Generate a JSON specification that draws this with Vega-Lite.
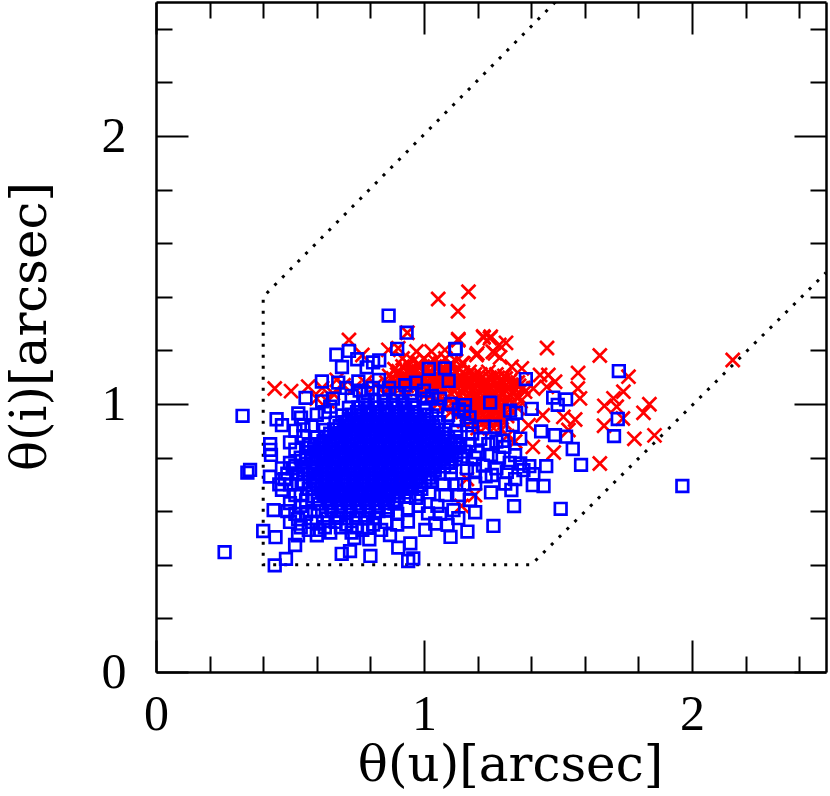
{"$schema":"https://vega.github.io/schema/vega-lite/v6.json","width":670,"height":670,"autosize":"none","padding":{"left":156,"top":2,"right":4,"bottom":124},"background":"white","config":{"view":{"stroke":null}},
"datasets":{"path":[{"seg":"a","u":1.49,"i":2.5,"o":1},{"seg":"a","u":0.4,"i":1.4,"o":2},{"seg":"a","u":0.4,"i":0.4,"o":3},{"seg":"a","u":1.4,"i":0.4,"o":4},{"seg":"a","u":2.5,"i":1.49,"o":5}],
"red":[{"x":1.459,"y":1.209},{"x":1.656,"y":1.181},{"x":2.152,"y":1.164},{"x":1.575,"y":1.116},{"x":1.763,"y":1.102},{"x":1.222,"y":1.248},{"x":1.249,"y":1.251},{"x":1.306,"y":1.228},{"x":1.128,"y":1.238},{"x":1.281,"y":1.22},{"x":1.257,"y":1.195},{"x":1.199,"y":1.189},{"x":1.284,"y":1.174},{"x":1.147,"y":1.151},{"x":1.433,"y":1.108},{"x":1.464,"y":1.108},{"x":1.489,"y":1.083},{"x":1.408,"y":1.058},{"x":1.458,"y":1.064},{"x":1.574,"y":1.058},{"x":1.582,"y":1.021},{"x":1.744,"y":1.046},{"x":1.707,"y":1.021},{"x":1.673,"y":0.993},{"x":1.719,"y":0.99},{"x":1.841,"y":0.999},{"x":1.819,"y":0.967},{"x":1.52,"y":0.952},{"x":1.564,"y":0.942},{"x":1.672,"y":0.919},{"x":1.742,"y":0.946},{"x":1.539,"y":0.903},{"x":1.39,"y":0.921},{"x":1.443,"y":0.958},{"x":1.785,"y":0.87},{"x":1.86,"y":0.883},{"x":1.406,"y":0.84},{"x":1.484,"y":0.819},{"x":1.656,"y":0.778},{"x":1.377,"y":1.046},{"x":1.327,"y":1.139},{"x":1.365,"y":1.133},{"x":1.34,"y":1.077},{"x":1.053,"y":1.392},{"x":1.166,"y":1.419},{"x":1.127,"y":1.346},{"x":0.72,"y":1.239},{"x":0.77,"y":1.183},{"x":0.443,"y":1.058},{"x":0.504,"y":1.048},{"x":0.568,"y":1.065},{"x":0.938,"y":1.266},{"x":1.128,"y":1.242},{"x":1.221,"y":1.252},{"x":1.246,"y":1.245},{"x":1.196,"y":1.183},{"x":1.265,"y":1.189},{"x":0.867,"y":1.202},{"x":0.904,"y":1.208},{"x":0.972,"y":1.196},{"x":1.028,"y":1.196},{"x":1.078,"y":1.202},{"x":1.143,"y":1.152},{"x":0.674,"y":1.09},{"x":0.62,"y":1.06},{"x":0.66,"y":1.04},{"x":0.7,"y":1.07},{"x":0.74,"y":1.06},{"x":0.78,"y":1.08},{"x":0.82,"y":1.07},{"x":0.6,"y":1.02},{"x":0.64,"y":1.01},
{"x":0.92,"y":1.17},{"x":0.96,"y":1.16},{"x":1.0,"y":1.17},{"x":1.04,"y":1.16},{"x":1.08,"y":1.17},{"x":1.12,"y":1.16},{"x":0.94,"y":1.15},{"x":0.98,"y":1.15},{"x":1.02,"y":1.15},{"x":1.06,"y":1.15},{"x":1.1,"y":1.15},
{"x":0.89,"y":1.13},{"x":0.92,"y":1.14},{"x":0.95,"y":1.13},{"x":0.98,"y":1.14},{"x":1.01,"y":1.13},{"x":1.04,"y":1.14},{"x":1.07,"y":1.13},{"x":1.1,"y":1.14},{"x":1.13,"y":1.13},{"x":1.17,"y":1.12},{"x":1.21,"y":1.11},{"x":1.24,"y":1.12},{"x":1.27,"y":1.11},{"x":1.16,"y":1.105},{"x":1.19,"y":1.11},{"x":1.3,"y":1.105},
{"x":0.905,"y":1.122},{"x":0.935,"y":1.122},{"x":0.965,"y":1.122},{"x":0.995,"y":1.122},{"x":1.025,"y":1.122},{"x":1.055,"y":1.122},{"x":1.085,"y":1.122},{"x":1.115,"y":1.122},{"x":1.145,"y":1.118},
{"x":0.885,"y":1.095},{"x":0.915,"y":1.095},{"x":0.945,"y":1.095},{"x":0.975,"y":1.095},{"x":1.005,"y":1.095},{"x":1.035,"y":1.095},{"x":1.065,"y":1.095},{"x":1.095,"y":1.095},{"x":1.125,"y":1.092},{"x":1.155,"y":1.085},
{"x":0.875,"y":1.068},{"x":0.905,"y":1.07},{"x":0.935,"y":1.068},{"x":0.965,"y":1.07},{"x":0.995,"y":1.068},{"x":1.025,"y":1.07},{"x":1.055,"y":1.068},{"x":1.085,"y":1.07},{"x":1.115,"y":1.068},{"x":1.145,"y":1.06},
{"x":0.87,"y":1.105},{"x":0.9,"y":1.11},{"x":0.93,"y":1.105},{"x":0.96,"y":1.11},{"x":0.99,"y":1.105},{"x":1.02,"y":1.11},{"x":1.05,"y":1.105},{"x":1.08,"y":1.11},{"x":1.11,"y":1.105},{"x":1.14,"y":1.1},{"x":1.17,"y":1.09},{"x":1.2,"y":1.085},{"x":1.23,"y":1.09},{"x":1.26,"y":1.085},{"x":1.29,"y":1.09},{"x":1.32,"y":1.085},{"x":1.35,"y":1.08},{"x":1.185,"y":1.098},{"x":1.215,"y":1.098},{"x":1.245,"y":1.098},{"x":1.275,"y":1.098},{"x":1.305,"y":1.095},
{"x":0.86,"y":1.08},{"x":0.89,"y":1.085},{"x":0.92,"y":1.08},{"x":0.95,"y":1.085},{"x":0.98,"y":1.08},{"x":1.01,"y":1.085},{"x":1.04,"y":1.08},{"x":1.07,"y":1.085},{"x":1.1,"y":1.08},{"x":1.13,"y":1.075},{"x":1.16,"y":1.065},{"x":1.19,"y":1.06},{"x":1.22,"y":1.065},{"x":1.25,"y":1.06},{"x":1.28,"y":1.065},{"x":1.31,"y":1.06},{"x":1.34,"y":1.055},{"x":1.37,"y":1.06},{"x":1.175,"y":1.075},{"x":1.205,"y":1.072},{"x":1.235,"y":1.075},{"x":1.265,"y":1.072},{"x":1.295,"y":1.075},{"x":1.325,"y":1.072},{"x":1.355,"y":1.068},
{"x":0.87,"y":1.055},{"x":0.9,"y":1.06},{"x":0.93,"y":1.055},{"x":0.96,"y":1.06},{"x":0.99,"y":1.055},{"x":1.02,"y":1.06},{"x":1.05,"y":1.055},{"x":1.08,"y":1.06},{"x":1.11,"y":1.05},{"x":1.14,"y":1.045},{"x":1.17,"y":1.04},{"x":1.2,"y":1.035},{"x":1.23,"y":1.04},{"x":1.26,"y":1.035},{"x":1.29,"y":1.04},{"x":1.32,"y":1.035},{"x":1.35,"y":1.03},{"x":1.125,"y":1.06},{"x":1.155,"y":1.052},{"x":1.185,"y":1.05},{"x":1.215,"y":1.05},{"x":1.245,"y":1.05},{"x":1.275,"y":1.05},{"x":1.305,"y":1.05},{"x":1.335,"y":1.045},
{"x":1.0,"y":1.03},{"x":1.03,"y":1.035},{"x":1.06,"y":1.03},{"x":1.09,"y":1.025},{"x":1.12,"y":1.02},{"x":1.15,"y":1.015},{"x":1.18,"y":1.01},{"x":1.21,"y":1.015},{"x":1.24,"y":1.01},{"x":1.27,"y":1.015},{"x":1.3,"y":1.01},{"x":1.33,"y":1.005},{"x":1.36,"y":1.01},{"x":1.135,"y":1.03},{"x":1.165,"y":1.026},{"x":1.195,"y":1.025},{"x":1.225,"y":1.026},{"x":1.255,"y":1.025},{"x":1.285,"y":1.025},{"x":1.315,"y":1.022},
{"x":1.05,"y":1.0},{"x":1.08,"y":1.0},{"x":1.11,"y":0.995},{"x":1.14,"y":0.99},{"x":1.17,"y":0.985},{"x":1.2,"y":0.99},{"x":1.23,"y":0.985},{"x":1.26,"y":0.99},{"x":1.29,"y":0.985},{"x":1.32,"y":0.98},{"x":1.35,"y":0.985},{"x":1.155,"y":1.0},{"x":1.185,"y":1.0},{"x":1.215,"y":1.0},{"x":1.245,"y":1.0},{"x":1.275,"y":1.0},{"x":1.305,"y":0.998},
{"x":1.1,"y":0.97},{"x":1.13,"y":0.965},{"x":1.16,"y":0.96},{"x":1.19,"y":0.965},{"x":1.22,"y":0.96},{"x":1.25,"y":0.965},{"x":1.28,"y":0.96},{"x":1.31,"y":0.955},{"x":1.175,"y":0.975},{"x":1.205,"y":0.975},{"x":1.235,"y":0.975},{"x":1.265,"y":0.975},{"x":1.295,"y":0.972},
{"x":1.15,"y":0.935},{"x":1.18,"y":0.94},{"x":1.21,"y":0.935},{"x":1.24,"y":0.94},{"x":1.27,"y":0.935},{"x":1.3,"y":0.93},{"x":1.195,"y":0.95},{"x":1.225,"y":0.95},{"x":1.255,"y":0.95},{"x":1.285,"y":0.948},
{"x":1.2,"y":0.91},{"x":1.23,"y":0.915},{"x":1.26,"y":0.91},{"x":1.29,"y":0.905},{"x":1.31,"y":0.88},{"x":1.34,"y":0.86},{"x":1.19,"y":0.66},{"x":1.14,"y":0.62},{"x":0.9,"y":0.72},{"x":1.16,"y":0.72}],
"blue":[{"x":0.868,"y":1.33},{"x":0.935,"y":1.266},{"x":0.9,"y":1.206},{"x":0.673,"y":1.184},{"x":0.72,"y":1.198},{"x":0.694,"y":1.138},{"x":0.751,"y":1.167},{"x":0.786,"y":1.137},{"x":0.833,"y":1.163},{"x":0.81,"y":1.155},{"x":1.018,"y":1.131},{"x":1.078,"y":1.133},{"x":1.092,"y":1.086},{"x":1.118,"y":1.206},{"x":0.619,"y":1.084},{"x":0.755,"y":1.084},{"x":0.832,"y":1.09},{"x":0.558,"y":1.023},{"x":0.531,"y":0.965},{"x":0.541,"y":0.949},{"x":0.45,"y":0.943},{"x":0.47,"y":0.921},{"x":0.323,"y":0.956},{"x":0.426,"y":0.85},{"x":0.5,"y":0.857},{"x":0.429,"y":0.81},{"x":0.426,"y":0.829},{"x":0.351,"y":0.754},{"x":0.341,"y":0.744},{"x":0.425,"y":0.729},{"x":0.439,"y":0.604},{"x":0.4,"y":0.526},{"x":0.446,"y":0.503},{"x":0.485,"y":0.422},{"x":0.443,"y":0.398},{"x":0.256,"y":0.447},{"x":0.519,"y":0.474},{"x":0.8,"y":0.433},{"x":0.693,"y":0.441},{"x":0.724,"y":0.451},{"x":0.904,"y":0.464},{"x":0.949,"y":0.48},{"x":0.941,"y":0.414},{"x":0.96,"y":0.424},{"x":0.796,"y":0.495},{"x":0.873,"y":0.511},{"x":1.005,"y":0.53},{"x":1.042,"y":0.554},{"x":1.088,"y":0.549},{"x":1.099,"y":0.504},{"x":1.162,"y":0.524},{"x":1.259,"y":0.545},{"x":1.191,"y":0.596},{"x":1.171,"y":0.642},{"x":1.128,"y":0.574},{"x":1.015,"y":0.592},{"x":0.94,"y":0.561},{"x":1.247,"y":1.005},{"x":1.15,"y":0.972},
{"x":1.117,"y":1.205},{"x":1.38,"y":1.093},{"x":1.321,"y":0.975},{"x":1.344,"y":0.967},{"x":1.402,"y":0.982},{"x":1.482,"y":1.024},{"x":1.53,"y":1.017},{"x":1.499,"y":0.997},{"x":1.723,"y":0.944},{"x":1.727,"y":1.123},{"x":1.709,"y":0.88},{"x":1.331,"y":0.921},{"x":1.359,"y":0.871},{"x":1.437,"y":0.898},{"x":1.489,"y":0.884},{"x":1.53,"y":0.878},{"x":1.555,"y":0.832},{"x":1.586,"y":0.773},{"x":1.456,"y":0.768},{"x":1.446,"y":0.694},{"x":1.406,"y":0.697},{"x":1.326,"y":0.679},{"x":1.336,"y":0.619},{"x":1.51,"y":0.609},{"x":1.964,"y":0.694},{"x":1.172,"y":0.641},{"x":1.11,"y":0.604},{"x":1.222,"y":0.915},{"x":1.265,"y":0.915},{"x":1.294,"y":0.863},{"x":1.34,"y":0.809},{"x":1.359,"y":0.778},{"x":1.393,"y":0.768},{"x":1.191,"y":0.703},{"x":1.253,"y":0.735},{"x":1.309,"y":0.747},{"x":1.303,"y":0.703},{"x":1.371,"y":0.753},{"x":1.408,"y":0.738},{"x":1.153,"y":0.996},{"x":1.2,"y":0.82},{"x":1.24,"y":0.85},{"x":1.28,"y":0.8},{"x":1.22,"y":0.77},{"x":1.18,"y":0.89},{"x":1.16,"y":0.76},{"x":1.12,"y":0.7},{"x":1.08,"y":0.66},{"x":1.05,"y":0.62},{"x":0.98,"y":0.62},
{"x":1.17,"y":0.85},{"x":1.19,"y":0.8},{"x":1.21,"y":0.87},{"x":1.25,"y":0.81},{"x":1.27,"y":0.86},{"x":1.23,"y":0.73},{"x":1.27,"y":0.76},{"x":1.15,"y":0.7},{"x":1.19,"y":0.75},{"x":1.13,"y":0.66},{"x":1.07,"y":0.7},{"x":1.1,"y":0.74},{"x":1.06,"y":0.59},{"x":1.12,"y":0.9},{"x":1.16,"y":0.92},{"x":1.3,"y":0.84},{"x":1.32,"y":0.78},{"x":1.34,"y":0.72},{"x":1.25,"y":0.67},{"x":0.47,"y":0.68},{"x":0.49,"y":0.74},{"x":0.51,"y":0.76},{"x":0.53,"y":0.7},{"x":0.54,"y":0.66},{"x":0.49,"y":0.6},{"x":0.53,"y":0.57},{"x":0.56,"y":0.59},{"x":0.56,"y":0.64},{"x":0.59,"y":0.6},{"x":0.6,"y":0.56},{"x":0.63,"y":0.54},{"x":0.67,"y":0.56},{"x":0.71,"y":0.55},{"x":0.75,"y":0.54},{"x":0.79,"y":0.54},{"x":0.86,"y":0.56},{"x":0.74,"y":0.5},{"x":0.6,"y":0.51},{"x":0.53,"y":0.51},{"x":0.52,"y":0.9},{"x":0.55,"y":0.92},{"x":0.57,"y":0.85},{"x":0.54,"y":0.8},{"x":0.52,"y":0.77},{"x":0.63,"y":0.97},{"x":0.66,"y":1.02},{"x":0.73,"y":1.03},{"x":0.79,"y":1.04},{"x":0.85,"y":1.04},{"x":0.9,"y":1.04},{"x":0.95,"y":1.04},{"x":1.01,"y":1.02},{"x":1.05,"y":0.99},{"x":1.09,"y":0.96},{"x":1.13,"y":0.94},
{"x":0.68,"y":1.08},{"x":0.71,"y":1.06},{"x":0.76,"y":1.05},{"x":0.81,"y":1.06},{"x":0.87,"y":1.06},{"x":0.93,"y":1.07},{"x":0.97,"y":1.08},{"x":1.0,"y":1.05},{"x":1.03,"y":1.03},{"x":1.06,"y":1.02},{"x":1.1,"y":1.0},{"x":1.13,"y":0.98},{"x":1.17,"y":0.95},{"x":0.62,"y":1.01},{"x":0.65,"y":0.99},{"x":0.6,"y":0.96},{"x":0.58,"y":0.92},{"x":0.55,"y":0.88},{"x":0.52,"y":0.83},{"x":0.5,"y":0.78},{"x":0.47,"y":0.76},{"x":0.48,"y":0.72},{"x":0.46,"y":0.7},{"x":0.5,"y":0.7},{"x":0.53,"y":0.74},{"x":0.52,"y":0.66},{"x":0.5,"y":0.63},{"x":0.54,"y":0.62},{"x":0.52,"y":0.59},{"x":0.5,"y":0.56},{"x":0.54,"y":0.54},{"x":0.58,"y":0.56},{"x":0.57,"y":0.53},{"x":0.61,"y":0.53},{"x":0.65,"y":0.52},{"x":0.69,"y":0.54},{"x":0.73,"y":0.52},{"x":0.77,"y":0.53},{"x":0.81,"y":0.55},{"x":0.84,"y":0.53},{"x":0.9,"y":0.55},{"x":0.9,"y":0.59},{"x":0.94,"y":0.61},{"x":0.97,"y":0.65},{"x":1.02,"y":0.67},
{"x":0.78,"y":1.01},{"x":0.815,"y":1.012},{"x":0.85,"y":1.01},{"x":0.885,"y":1.012},{"x":0.92,"y":1.01},{"x":0.955,"y":1.012},
{"x":0.72,"y":0.985},{"x":0.755,"y":0.987},{"x":0.79,"y":0.985},{"x":0.825,"y":0.987},{"x":0.86,"y":0.985},{"x":0.895,"y":0.987},{"x":0.93,"y":0.985},{"x":0.965,"y":0.987},{"x":1.0,"y":0.985},
{"x":0.695,"y":0.957},{"x":0.73,"y":0.96},{"x":0.765,"y":0.957},{"x":0.8,"y":0.96},{"x":0.835,"y":0.957},{"x":0.87,"y":0.96},{"x":0.905,"y":0.957},{"x":0.94,"y":0.96},{"x":0.975,"y":0.957},{"x":1.01,"y":0.96},{"x":1.03,"y":0.957},
{"x":0.67,"y":0.93},{"x":0.705,"y":0.932},{"x":0.74,"y":0.93},{"x":0.775,"y":0.932},{"x":0.81,"y":0.93},{"x":0.845,"y":0.932},{"x":0.88,"y":0.93},{"x":0.915,"y":0.932},{"x":0.95,"y":0.93},{"x":0.985,"y":0.932},{"x":1.02,"y":0.93},{"x":1.055,"y":0.932},
{"x":0.63,"y":0.903},{"x":0.665,"y":0.905},{"x":0.7,"y":0.903},{"x":0.735,"y":0.905},{"x":0.77,"y":0.903},{"x":0.805,"y":0.905},{"x":0.84,"y":0.903},{"x":0.875,"y":0.905},{"x":0.91,"y":0.903},{"x":0.945,"y":0.905},{"x":0.98,"y":0.903},{"x":1.015,"y":0.905},{"x":1.05,"y":0.903},{"x":1.08,"y":0.905},
{"x":0.6,"y":0.875},{"x":0.635,"y":0.877},{"x":0.67,"y":0.875},{"x":0.705,"y":0.877},{"x":0.74,"y":0.875},{"x":0.775,"y":0.877},{"x":0.81,"y":0.875},{"x":0.845,"y":0.877},{"x":0.88,"y":0.875},{"x":0.915,"y":0.877},{"x":0.95,"y":0.875},{"x":0.985,"y":0.877},{"x":1.02,"y":0.875},{"x":1.055,"y":0.877},{"x":1.09,"y":0.875},{"x":1.12,"y":0.877},
{"x":0.575,"y":0.847},{"x":0.61,"y":0.85},{"x":0.645,"y":0.847},{"x":0.68,"y":0.85},{"x":0.715,"y":0.847},{"x":0.75,"y":0.85},{"x":0.785,"y":0.847},{"x":0.82,"y":0.85},{"x":0.855,"y":0.847},{"x":0.89,"y":0.85},{"x":0.925,"y":0.847},{"x":0.96,"y":0.85},{"x":0.995,"y":0.847},{"x":1.03,"y":0.85},{"x":1.065,"y":0.847},{"x":1.1,"y":0.85},{"x":1.135,"y":0.847},
{"x":0.56,"y":0.82},{"x":0.595,"y":0.822},{"x":0.63,"y":0.82},{"x":0.665,"y":0.822},{"x":0.7,"y":0.82},{"x":0.735,"y":0.822},{"x":0.77,"y":0.82},{"x":0.805,"y":0.822},{"x":0.84,"y":0.82},{"x":0.875,"y":0.822},{"x":0.91,"y":0.82},{"x":0.945,"y":0.822},{"x":0.98,"y":0.82},{"x":1.015,"y":0.822},{"x":1.05,"y":0.82},{"x":1.085,"y":0.822},{"x":1.12,"y":0.82},{"x":1.15,"y":0.822},
{"x":0.56,"y":0.793},{"x":0.578,"y":0.795},{"x":0.613,"y":0.793},{"x":0.648,"y":0.795},{"x":0.683,"y":0.793},{"x":0.718,"y":0.795},{"x":0.753,"y":0.793},{"x":0.788,"y":0.795},{"x":0.823,"y":0.793},{"x":0.858,"y":0.795},{"x":0.893,"y":0.793},{"x":0.928,"y":0.795},{"x":0.963,"y":0.793},{"x":0.998,"y":0.795},{"x":1.033,"y":0.793},{"x":1.068,"y":0.795},{"x":1.103,"y":0.793},{"x":1.138,"y":0.795},
{"x":0.55,"y":0.765},{"x":0.585,"y":0.767},{"x":0.62,"y":0.765},{"x":0.655,"y":0.767},{"x":0.69,"y":0.765},{"x":0.725,"y":0.767},{"x":0.76,"y":0.765},{"x":0.795,"y":0.767},{"x":0.83,"y":0.765},{"x":0.865,"y":0.767},{"x":0.9,"y":0.765},{"x":0.935,"y":0.767},{"x":0.97,"y":0.765},{"x":1.005,"y":0.767},{"x":1.04,"y":0.765},{"x":1.075,"y":0.767},{"x":1.1,"y":0.765},
{"x":0.55,"y":0.738},{"x":0.568,"y":0.74},{"x":0.603,"y":0.738},{"x":0.638,"y":0.74},{"x":0.673,"y":0.738},{"x":0.708,"y":0.74},{"x":0.743,"y":0.738},{"x":0.778,"y":0.74},{"x":0.813,"y":0.738},{"x":0.848,"y":0.74},{"x":0.883,"y":0.738},{"x":0.918,"y":0.74},{"x":0.953,"y":0.738},{"x":0.988,"y":0.74},{"x":1.023,"y":0.738},{"x":1.058,"y":0.74},
{"x":0.55,"y":0.71},{"x":0.585,"y":0.712},{"x":0.62,"y":0.71},{"x":0.655,"y":0.712},{"x":0.69,"y":0.71},{"x":0.725,"y":0.712},{"x":0.76,"y":0.71},{"x":0.795,"y":0.712},{"x":0.83,"y":0.71},{"x":0.865,"y":0.712},{"x":0.9,"y":0.71},{"x":0.935,"y":0.712},{"x":0.97,"y":0.71},{"x":1.005,"y":0.712},{"x":1.03,"y":0.71},
{"x":0.57,"y":0.683},{"x":0.605,"y":0.685},{"x":0.64,"y":0.683},{"x":0.675,"y":0.685},{"x":0.71,"y":0.683},{"x":0.745,"y":0.685},{"x":0.78,"y":0.683},{"x":0.815,"y":0.685},{"x":0.85,"y":0.683},{"x":0.885,"y":0.685},{"x":0.92,"y":0.683},{"x":0.955,"y":0.685},{"x":0.99,"y":0.683},
{"x":0.59,"y":0.655},{"x":0.625,"y":0.657},{"x":0.66,"y":0.655},{"x":0.695,"y":0.657},{"x":0.73,"y":0.655},{"x":0.765,"y":0.657},{"x":0.8,"y":0.655},{"x":0.835,"y":0.657},{"x":0.87,"y":0.655},{"x":0.905,"y":0.657},{"x":0.945,"y":0.655},
{"x":0.61,"y":0.628},{"x":0.645,"y":0.63},{"x":0.68,"y":0.628},{"x":0.715,"y":0.63},{"x":0.75,"y":0.628},{"x":0.785,"y":0.63},{"x":0.82,"y":0.628},{"x":0.855,"y":0.63},{"x":0.89,"y":0.628},
{"x":0.62,"y":0.6},{"x":0.655,"y":0.602},{"x":0.69,"y":0.6},{"x":0.725,"y":0.602},{"x":0.76,"y":0.6},{"x":0.795,"y":0.602},{"x":0.83,"y":0.6},{"x":0.865,"y":0.602},
{"x":0.64,"y":0.573},{"x":0.675,"y":0.575},{"x":0.71,"y":0.573},{"x":0.745,"y":0.575},{"x":0.78,"y":0.573},{"x":0.815,"y":0.575},
{"x":0.75,"y":0.97},{"x":0.785,"y":0.972},{"x":0.82,"y":0.97},{"x":0.855,"y":0.972},{"x":0.89,"y":0.97},{"x":0.925,"y":0.972},{"x":0.96,"y":0.97},
{"x":0.72,"y":0.943},{"x":0.755,"y":0.945},{"x":0.79,"y":0.943},{"x":0.825,"y":0.945},{"x":0.86,"y":0.943},{"x":0.895,"y":0.945},{"x":0.93,"y":0.943},{"x":0.965,"y":0.945},{"x":1.0,"y":0.943},
{"x":0.685,"y":0.917},{"x":0.72,"y":0.918},{"x":0.755,"y":0.917},{"x":0.79,"y":0.918},{"x":0.825,"y":0.917},{"x":0.86,"y":0.918},{"x":0.895,"y":0.917},{"x":0.93,"y":0.918},{"x":0.965,"y":0.917},{"x":1.0,"y":0.918},{"x":1.035,"y":0.917},
{"x":0.65,"y":0.889},{"x":0.685,"y":0.891},{"x":0.72,"y":0.889},{"x":0.755,"y":0.891},{"x":0.79,"y":0.889},{"x":0.825,"y":0.891},{"x":0.86,"y":0.889},{"x":0.895,"y":0.891},{"x":0.93,"y":0.889},{"x":0.965,"y":0.891},{"x":1.0,"y":0.889},{"x":1.035,"y":0.891},{"x":1.07,"y":0.889},
{"x":0.625,"y":0.861},{"x":0.66,"y":0.863},{"x":0.695,"y":0.861},{"x":0.73,"y":0.863},{"x":0.765,"y":0.861},{"x":0.8,"y":0.863},{"x":0.835,"y":0.861},{"x":0.87,"y":0.863},{"x":0.905,"y":0.861},{"x":0.94,"y":0.863},{"x":0.975,"y":0.861},{"x":1.01,"y":0.863},{"x":1.045,"y":0.861},{"x":1.08,"y":0.863},{"x":1.115,"y":0.861},
{"x":0.59,"y":0.833},{"x":0.625,"y":0.836},{"x":0.66,"y":0.833},{"x":0.695,"y":0.836},{"x":0.73,"y":0.833},{"x":0.765,"y":0.836},{"x":0.8,"y":0.833},{"x":0.835,"y":0.836},{"x":0.87,"y":0.833},{"x":0.905,"y":0.836},{"x":0.94,"y":0.833},{"x":0.975,"y":0.836},{"x":1.01,"y":0.833},{"x":1.045,"y":0.836},{"x":1.08,"y":0.833},{"x":1.115,"y":0.836},
{"x":0.595,"y":0.807},{"x":0.63,"y":0.809},{"x":0.665,"y":0.807},{"x":0.7,"y":0.809},{"x":0.735,"y":0.807},{"x":0.77,"y":0.809},{"x":0.805,"y":0.807},{"x":0.84,"y":0.809},{"x":0.875,"y":0.807},{"x":0.91,"y":0.809},{"x":0.945,"y":0.807},{"x":0.98,"y":0.809},{"x":1.015,"y":0.807},{"x":1.05,"y":0.809},{"x":1.085,"y":0.807},{"x":1.12,"y":0.809},
{"x":0.6,"y":0.78},{"x":0.635,"y":0.781},{"x":0.67,"y":0.78},{"x":0.705,"y":0.781},{"x":0.74,"y":0.78},{"x":0.775,"y":0.781},{"x":0.81,"y":0.78},{"x":0.845,"y":0.781},{"x":0.88,"y":0.78},{"x":0.915,"y":0.781},{"x":0.95,"y":0.78},{"x":0.985,"y":0.781},{"x":1.02,"y":0.78},{"x":1.055,"y":0.781},{"x":1.09,"y":0.78},
{"x":0.585,"y":0.752},{"x":0.62,"y":0.753},{"x":0.655,"y":0.752},{"x":0.69,"y":0.753},{"x":0.725,"y":0.752},{"x":0.76,"y":0.753},{"x":0.795,"y":0.752},{"x":0.83,"y":0.753},{"x":0.865,"y":0.752},{"x":0.9,"y":0.753},{"x":0.935,"y":0.752},{"x":0.97,"y":0.753},{"x":1.005,"y":0.752},{"x":1.04,"y":0.753},
{"x":0.6,"y":0.725},{"x":0.635,"y":0.726},{"x":0.67,"y":0.725},{"x":0.705,"y":0.726},{"x":0.74,"y":0.725},{"x":0.775,"y":0.726},{"x":0.81,"y":0.725},{"x":0.845,"y":0.726},{"x":0.88,"y":0.725},{"x":0.915,"y":0.726},{"x":0.95,"y":0.725},{"x":0.985,"y":0.726},{"x":1.02,"y":0.725},
{"x":0.6,"y":0.697},{"x":0.635,"y":0.698},{"x":0.67,"y":0.697},{"x":0.705,"y":0.698},{"x":0.74,"y":0.697},{"x":0.775,"y":0.698},{"x":0.81,"y":0.697},{"x":0.845,"y":0.698},{"x":0.88,"y":0.697},{"x":0.915,"y":0.698},{"x":0.95,"y":0.697},{"x":0.985,"y":0.698},
{"x":0.62,"y":0.669},{"x":0.655,"y":0.67},{"x":0.69,"y":0.669},{"x":0.725,"y":0.67},{"x":0.76,"y":0.669},{"x":0.795,"y":0.67},{"x":0.83,"y":0.669},{"x":0.865,"y":0.67},{"x":0.9,"y":0.669},{"x":0.935,"y":0.67},
{"x":0.64,"y":0.641},{"x":0.675,"y":0.642},{"x":0.71,"y":0.641},{"x":0.745,"y":0.642},{"x":0.78,"y":0.641},{"x":0.815,"y":0.642},{"x":0.85,"y":0.641},{"x":0.885,"y":0.642},
{"x":0.655,"y":0.614},{"x":0.69,"y":0.615},{"x":0.725,"y":0.614},{"x":0.76,"y":0.615},{"x":0.795,"y":0.614},{"x":0.83,"y":0.615},{"x":0.865,"y":0.614}]},
"layer":[
{"data":{"name":"path"},"mark":{"type":"line","color":"#000","strokeWidth":3,"strokeDash":[3,8],"clip":true},"encoding":{"order":{"field":"o","type":"quantitative"},
"x":{"field":"u","type":"quantitative","scale":{"domain":[0,2.5],"nice":false},"axis":{"orient":"bottom","values":[0,0.2,0.4,0.6,0.8,1,1.2,1.4,1.6,1.8,2,2.2,2.4],"tickSize":{"condition":{"test":"datum.value==0||datum.value==1||datum.value==2","value":-32},"value":-16},"tickWidth":2,"tickColor":"#000","domainColor":"#000","domainWidth":2.5,"grid":false,"labelExpr":"(datum.value==0||datum.value==1||datum.value==2)?datum.label:''","labelFont":"Liberation Serif","labelFontSize":50,"labelColor":"#000","labelPadding":49,"labelFlush":false,"labelOverlap":false,"format":".0f","title":"θ(u)[arcsec]","titleFont":"DejaVu Serif","titleFontWeight":"normal","titleFontSize":50,"titleColor":"#000","titleX":354,"titleY":108,"titleBaseline":"alphabetic"}},
"y":{"field":"i","type":"quantitative","scale":{"domain":[0,2.5],"nice":false},"axis":{"orient":"left","values":[0,0.2,0.4,0.6,0.8,1,1.2,1.4,1.6,1.8,2,2.2,2.4],"tickSize":{"condition":{"test":"datum.value==0||datum.value==1||datum.value==2","value":-32},"value":-16},"tickWidth":2,"tickColor":"#000","domainColor":"#000","domainWidth":2.5,"grid":false,"labelExpr":"(datum.value==0||datum.value==1||datum.value==2)?datum.label:''","labelFont":"Liberation Serif","labelFontSize":50,"labelColor":"#000","labelPadding":62,"labelFlush":false,"labelOverlap":false,"format":".0f","title":"θ(i)[arcsec]","titleFont":"DejaVu Serif","titleFontWeight":"normal","titleFontSize":50,"titleColor":"#000","titleX":-111,"titleY":324,"titleBaseline":"alphabetic"}}}},
{"data":{"name":"red"},"mark":{"type":"point","shape":"M-1,-1L1,1M-1,1L1,-1","filled":false,"color":"#ff0000","strokeWidth":2.7,"size":195,"opacity":1},"encoding":{"x":{"field":"x","type":"quantitative","scale":{"domain":[0,2.5],"nice":false},"axis":null},"y":{"field":"y","type":"quantitative","scale":{"domain":[0,2.5],"nice":false},"axis":null}}},
{"data":{"name":"blue"},"mark":{"type":"point","shape":"square","filled":false,"color":"#0000ff","strokeWidth":2.7,"size":135,"opacity":1},"encoding":{"x":{"field":"x","type":"quantitative","scale":{"domain":[0,2.5],"nice":false},"axis":null},"y":{"field":"y","type":"quantitative","scale":{"domain":[0,2.5],"nice":false},"axis":null}}},
{"data":{"name":"path"},"mark":{"type":"line","opacity":0},"encoding":{
"x":{"field":"u","type":"quantitative","scale":{"domain":[0,2.5],"nice":false},"axis":{"orient":"top","values":[0,0.2,0.4,0.6,0.8,1,1.2,1.4,1.6,1.8,2,2.2,2.4],"tickSize":{"condition":{"test":"datum.value==0||datum.value==1||datum.value==2","value":-32},"value":-16},"tickWidth":2,"tickColor":"#000","domainColor":"#000","domainWidth":2.5,"grid":false,"labels":false,"title":null}},
"y":{"field":"i","type":"quantitative","scale":{"domain":[0,2.5],"nice":false},"axis":{"orient":"right","values":[0,0.2,0.4,0.6,0.8,1,1.2,1.4,1.6,1.8,2,2.2,2.4],"tickSize":{"condition":{"test":"datum.value==0||datum.value==1||datum.value==2","value":-32},"value":-16},"tickWidth":2,"tickColor":"#000","domainColor":"#000","domainWidth":2.5,"grid":false,"labels":false,"title":null}}}}
],
"resolve":{"scale":{"x":"independent","y":"independent"},"axis":{"x":"independent","y":"independent"}}}
